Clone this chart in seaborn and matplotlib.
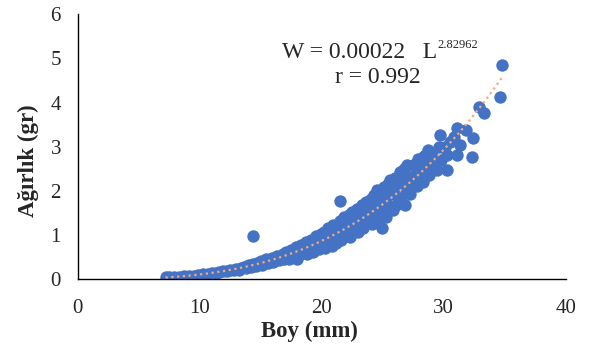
import numpy as np
import pandas as pd
import matplotlib
matplotlib.use("Agg")
import matplotlib.pyplot as plt
import seaborn as sns

# Length (mm) and weight (gr)
boy = [
    7.2, 7.5, 7.9, 8.3, 8.7, 9.1, 9.5, 9.9, 10.3, 10.7, 11.0, 11.3, 11.6, 11.9,
    12.2, 12.5, 12.8, 13.0, 13.2, 13.4, 13.6, 13.8, 13.9,
    14.0, 14.2, 14.4, 14.4, 14.6, 14.7, 14.9,
    15.0, 15.1, 15.3, 15.4, 15.6, 15.7, 15.9,
    16.0, 16.2, 16.3, 16.5, 16.6, 16.8, 16.9,
    17.0, 17.1, 17.3, 17.4, 17.5, 17.7, 17.8, 17.9,
    18.0, 18.1, 18.2, 18.3, 18.5, 18.6, 18.7, 18.8, 18.9,
    19.0, 19.1, 19.2, 19.3, 19.4, 19.5, 19.6, 19.7, 19.8, 19.9,
    20.0, 20.1, 20.2, 20.3, 20.4, 20.5, 20.6, 20.7, 20.8, 20.9,
    21.0, 21.1, 21.2, 21.3, 21.4, 21.5, 21.5, 21.6, 21.7, 21.8, 21.9,
    22.0, 22.1, 22.2, 22.3, 22.4, 22.5, 22.6, 22.7, 22.8, 22.9,
    23.0, 23.1, 23.2, 23.3, 23.4, 23.5, 23.6, 23.7, 23.8, 23.9,
    24.0, 24.1, 24.2, 24.3, 24.4, 24.5, 24.6, 24.7, 24.8, 24.9, 24.9,
    25.0, 25.1, 25.2, 25.3, 25.4, 25.5, 25.6, 25.7, 25.8, 25.9,
    26.0, 26.1, 26.2, 26.3, 26.4, 26.5, 26.6, 26.7, 26.8, 26.9,
    27.0, 27.1, 27.2, 27.3, 27.4, 27.6, 27.7, 27.8, 27.9,
    28.0, 28.1, 28.3, 28.4, 28.5, 28.7, 28.8, 28.9,
    29.0, 29.2, 29.4, 29.6, 29.7, 29.8,
    30.1, 30.3, 30.3, 30.5, 30.8, 31.1, 31.1, 31.35, 31.8, 32.3, 32.4,
    32.9, 33.3, 34.6, 34.8,
]
agirlik = [
    0.045, 0.047, 0.055, 0.063, 0.068, 0.075, 0.085, 0.095, 0.11, 0.12, 0.14, 0.15, 0.16, 0.18,
    0.18, 0.21, 0.22, 0.24, 0.22, 0.26, 0.28, 0.25, 0.30,
    0.32, 0.28, 0.34, 0.98, 0.31, 0.38, 0.35,
    0.41, 0.33, 0.39, 0.45, 0.37, 0.43, 0.49,
    0.40, 0.47, 0.53, 0.43, 0.50, 0.57, 0.47,
    0.53, 0.62, 0.45, 0.57, 0.66, 0.52, 0.61, 0.72,
    0.45, 0.56, 0.66, 0.78, 0.61, 0.71, 0.84, 0.57, 0.76,
    0.66, 0.90, 0.78, 0.62, 0.85, 0.97, 0.72, 0.88, 0.68, 1.02,
    0.80, 0.93, 1.08, 0.71, 0.98, 1.15, 0.84, 1.03, 0.76, 1.22,
    0.92, 1.10, 0.82, 1.26, 1.02, 1.78, 1.32, 0.90, 1.16, 1.40, 0.98,
    1.26, 1.06, 1.46, 0.96, 1.34, 1.52, 1.10, 1.40, 1.22, 1.60,
    1.06, 1.46, 1.30, 1.68, 1.16, 1.52, 1.74, 1.28, 1.58, 1.40,
    1.82, 1.26, 1.64, 1.90, 1.44, 2.02, 1.72, 1.32, 1.56, 1.16, 1.96,
    1.50, 2.10, 1.80, 1.42, 2.16, 1.66, 2.25, 1.92, 1.56, 2.04,
    2.30, 1.68, 2.14, 1.84, 2.42, 1.74, 2.22, 2.50, 1.68, 2.00,
    2.59, 2.30, 1.94, 2.32, 2.10, 2.62, 2.40, 2.12, 2.72,
    2.30, 2.56, 2.20, 2.78, 2.46, 2.92, 2.36, 2.66,
    2.81, 2.52, 2.47, 3.00, 3.26, 2.70,
    3.00, 2.81, 2.47, 3.10, 3.23, 2.81, 3.42, 3.04, 3.38, 2.77, 3.19,
    3.90, 3.76, 4.13, 4.84,
]

x_ticks = [0, 10, 20, 30, 40]
y_ticks = [0, 1, 2, 3, 4, 5, 6]

df = pd.DataFrame({"boy": boy, "agirlik": agirlik})

# Power trendline fitted on the points (log-log regression, like Excel)
b, log_a = np.polyfit(np.log(df["boy"]), np.log(df["agirlik"]), 1)
trend_x = np.linspace(df["boy"].min(), df["boy"].max(), 200)
trend = pd.DataFrame({"boy": trend_x, "agirlik": np.exp(log_a) * trend_x ** b})

sns.set_style("white")
plt.rcParams["font.family"] = ["Liberation Serif", "DejaVu Serif"]

fig = plt.figure(figsize=(6.02, 3.54), dpi=100)
ax = fig.add_axes([0.129, 0.211, 0.811, 0.749])

sns.scatterplot(data=df, x="boy", y="agirlik", ax=ax, color="#4472C4",
                s=80, linewidth=0, zorder=2)
sns.lineplot(data=trend, x="boy", y="agirlik", ax=ax, color="#F4A97A",
             linewidth=1.6, linestyle=(0, (1, 1.6)), zorder=3)

ax.set_xlim(0, 40)
ax.set_ylim(0, 6)
ax.set_xticks(x_ticks)
ax.set_yticks(y_ticks)
ax.tick_params(axis="both", direction="out", length=5, width=1, color="black",
               labelsize=15, labelcolor="#262626")
ax.tick_params(axis="y", pad=7)
ax.tick_params(axis="x", pad=9)
for side in ["top", "right"]:
    ax.spines[side].set_visible(False)
for side in ["left", "bottom"]:
    ax.spines[side].set_color("black")
    ax.spines[side].set_linewidth(1)

ax.set_xlabel("Boy (mm)", fontsize=16.5, fontweight="bold")
ax.set_ylabel("Ağırlık (gr)", fontsize=16.5, fontweight="bold")
ax.xaxis.set_label_coords(0.475, -0.155)
ax.yaxis.set_label_coords(-0.079, 0.447)

# equation box: main line plus a smaller superscript exponent
eq = ax.text(0.419, 0.834, "W = 0.00022   L", transform=ax.transAxes,
             fontsize=17, ha="left", va="baseline")
ax.annotate("2.82962", xy=(1, 0.6), xycoords=eq, xytext=(0, 0),
            textcoords="offset points", fontsize=9, ha="left", va="bottom")
ax.text(0.528, 0.74, "r = 0.992", transform=ax.transAxes,
        fontsize=17, ha="left", va="baseline")

fig.savefig("out.png", dpi=100, facecolor="white")
